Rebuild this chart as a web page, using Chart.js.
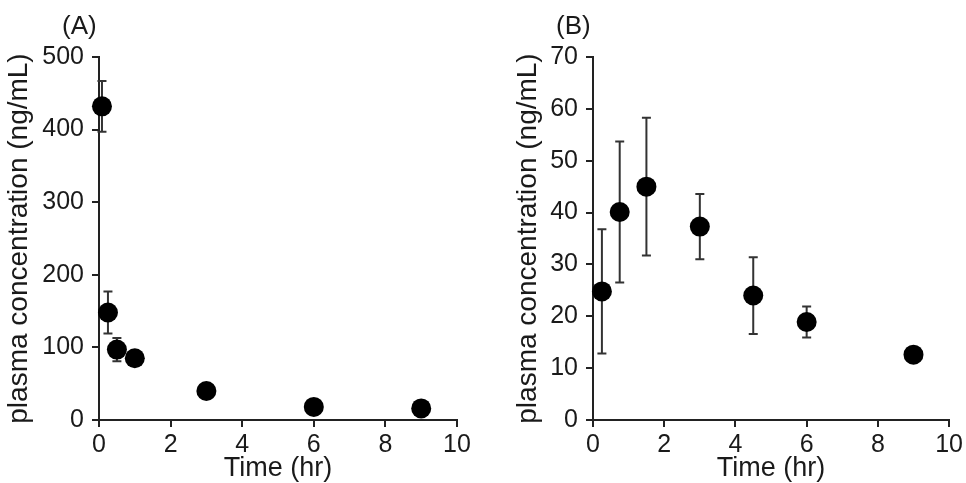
<!DOCTYPE html>
<html>
<head>
<meta charset="utf-8">
<script src="https://cdn.jsdelivr.net/npm/chart.js@4/dist/chart.umd.min.js"></script>
<style>
  html, body { margin: 0; padding: 0; background: #fff; overflow: hidden; width: 966px; height: 483px; }
  .panel { position: absolute; top: 0; }
  .lbl { position: absolute; font-family: "Liberation Sans", Arial, sans-serif; font-size: 26px; line-height: 26px; color: #1a1a1a; }
</style>
</head>
<body>
<div class="panel" style="left:0px;"><canvas id="cA" width="483" height="500"></canvas></div>
<div class="panel" style="left:483px;"><canvas id="cB" width="483" height="500"></canvas></div>
<div class="lbl" style="left:62px; top:12px;">(A)</div>
<div class="lbl" style="left:556px; top:12px;">(B)</div>
<script>
// ---- data ----
const timesA = [0.083, 0.25, 0.5, 1, 3, 6, 9];
const concA  = [432, 148, 97, 85, 40, 18, 16];
const sdA    = [35, 29, 16, 0, 0, 0, 0];

const timesB = [0.25, 0.75, 1.5, 3, 4.5, 6, 9];
const concB  = [24.8, 40.1, 45.0, 37.3, 24.0, 18.9, 12.6];
const sdB    = [12.0, 13.6, 13.3, 6.3, 7.4, 3.0, 0];

const xTicks = [0, 2, 4, 6, 8, 10];
const yTicksA = [0, 100, 200, 300, 400, 500];
const yTicksB = [0, 10, 20, 30, 40, 50, 60, 70];

const xTitle = 'Time (hr)';
const yTitle = 'plasma concentration (ng/mL)';

const FONT = '"Liberation Sans", Arial, sans-serif';
const INK = '#1a1a1a';
const AXIS = '#222';

const errorBars = {
  id: 'errorBars',
  beforeDatasetsDraw(chart, args, opts) {
    const ctx = chart.ctx;
    const xs = chart.scales.x, ys = chart.scales.y;
    const sd = opts.sd;
    const ds = chart.data.datasets[0].data;
    ctx.save();
    ctx.strokeStyle = '#333';
    ctx.lineWidth = 2;
    ds.forEach((p, i) => {
      if (!sd[i]) return;
      const x = xs.getPixelForValue(p.x);
      const yT = ys.getPixelForValue(p.y + sd[i]);
      const yB = ys.getPixelForValue(p.y - sd[i]);
      ctx.beginPath();
      ctx.moveTo(x, yT); ctx.lineTo(x, yB);
      ctx.moveTo(x - 4.5, yT); ctx.lineTo(x + 4.5, yT);
      ctx.moveTo(x - 4.5, yB); ctx.lineTo(x + 4.5, yB);
      ctx.stroke();
    });
    ctx.restore();
  }
};

function makeChart(id, times, conc, sd, yTicks, yWidth, rightPad, yTitlePad) {
  const pts = times.map((t, i) => ({ x: t, y: conc[i] }));
  const yMax = yTicks[yTicks.length - 1];
  const yStep = yTicks[1] - yTicks[0];
  return new Chart(document.getElementById(id), {
    type: 'scatter',
    data: { datasets: [{
      data: pts,
      pointRadius: 10,
      pointHoverRadius: 10,
      backgroundColor: '#000',
      borderWidth: 0,
      clip: false
    }]},
    plugins: [errorBars],
    options: {
      responsive: false,
      animation: false,
      events: [],
      layout: { padding: { left: 0, right: rightPad, top: 57, bottom: 0 } },
      plugins: {
        legend: { display: false },
        tooltip: { enabled: false },
        errorBars: { sd: sd }
      },
      scales: {
        x: {
          type: 'linear', min: xTicks[0], max: xTicks[xTicks.length - 1],
          afterFit: s => { s.height = 80; },
          afterBuildTicks: s => { s.ticks = xTicks.map(v => ({ value: v })); },
          ticks: { font: { family: FONT, size: 25 }, color: INK, padding: 3, maxRotation: 0 },
          grid: { display: true, drawOnChartArea: false, drawTicks: true, tickLength: 7, color: AXIS, lineWidth: 2 },
          border: { display: true, color: AXIS, width: 2 },
          title: { display: true, text: xTitle, font: { family: FONT, size: 27 }, color: INK, padding: { top: 0, bottom: 15 } }
        },
        y: {
          type: 'linear', min: 0, max: yMax,
          afterFit: s => { s.width = yWidth; },
          afterBuildTicks: s => { s.ticks = yTicks.map(v => ({ value: v })); },
          ticks: { font: { family: FONT, size: 25 }, color: INK, padding: 8, stepSize: yStep },
          grid: { display: true, drawOnChartArea: false, drawTicks: true, tickLength: 7, color: AXIS, lineWidth: 2 },
          border: { display: true, color: AXIS, width: 2 },
          title: { display: true, text: yTitle, font: { family: FONT, size: 28 }, color: INK, padding: { top: yTitlePad, bottom: 0 } }
        }
      }
    }
  });
}

makeChart('cA', timesA, concA, sdA, yTicksA, 99, 26, 2);
makeChart('cB', timesB, concB, sdB, yTicksB, 110, 15, 28);
</script>
</body>
</html>
